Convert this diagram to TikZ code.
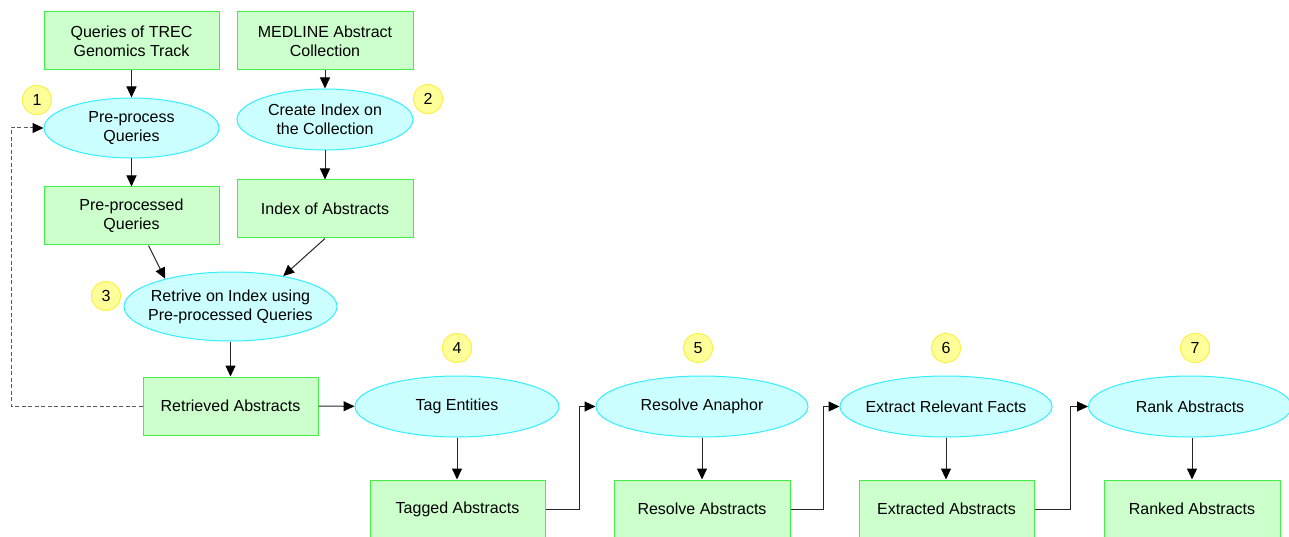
\documentclass[tikz,border=0pt]{standalone}
\usepackage{fontspec}
\setmainfont{Liberation Sans}
\usetikzlibrary{shapes.geometric,arrows.meta,calc}
\definecolor{boxfill}{HTML}{CCFFCC}
\definecolor{boxline}{HTML}{44EE44}
\definecolor{elfill}{HTML}{CCFFFF}
\definecolor{elline}{HTML}{33EEFF}
\definecolor{numfill}{HTML}{FFFF99}
\definecolor{numline}{HTML}{FFEE44}
\tikzset{
  every node/.style={font=\fontsize{16}{19}\selectfont, align=center, inner sep=0pt},
  databox/.style={draw=boxline, fill=boxfill, line width=1pt, rectangle, minimum width=175pt, minimum height=58pt},
  procell/.style={draw=elline, fill=elfill, line width=1pt, ellipse, minimum height=61pt, inner xsep=-20pt},
  numcirc/.style={draw=numline, fill=numfill, line width=1pt, circle, minimum size=29pt},
  conn/.style={draw=black!85, line width=1pt, -{Triangle[length=11pt,width=10pt,color=black]}},
  feedback/.style={draw=black!65, line width=1pt, dash pattern=on 4pt off 2.5pt, -{Triangle[length=11pt,width=10pt,color=black]}}
}
\begin{document}
\begin{tikzpicture}[x=1pt,y=-1pt]
\useasboundingbox (0,0) rectangle (1289,537);
% top left column
\node[databox] (trec) at (131.5,41) {Queries of TREC\\Genomics Track};
\node[databox, minimum width=176pt] (med) at (325,41) {MEDLINE Abstract\\Collection};
\node[procell, minimum width=175pt, minimum height=60pt] (prep) at (131.5,128) {Pre-process\\Queries};
\node[procell, minimum width=176pt] (cidx) at (325,119.5) {Create Index on\\the Collection};
\node[databox] (pq) at (131.5,216) {Pre-processed\\Queries};
\node[databox, minimum width=176pt] (ioa) at (325,209) {Index of Abstracts};
\node[procell, minimum width=213pt, minimum height=69pt] (retr) at (230.5,306.5) {Retrive on Index using\\Pre-processed Queries};
\node[databox] (ra) at (230.5,406) {Retrieved Abstracts};
% bottom row
\node[procell, minimum width=204pt] (tag) at (457,406.5) {Tag Entities};
\node[databox] (ta) at (457.5,509) {Tagged Abstracts};
\node[procell, minimum width=212pt] (res) at (702,406.5) {Resolve Anaphor};
\node[databox, minimum width=176pt] (rsa) at (702,509) {Resolve Abstracts};
\node[procell, minimum width=212pt] (ext) at (946,406.5) {Extract Relevant Facts};
\node[databox] (exa) at (946.5,509) {Extracted Abstracts};
\node[procell, minimum width=203pt] (rank) at (1190,406.5) {Rank Abstracts};
\node[databox, minimum width=176pt] (rka) at (1192,509) {Ranked Abstracts};
% number circles
\node[numcirc] (n1) at (37,100) {1};
\node[numcirc] (n2) at (428,99) {2};
\node[numcirc] (n3) at (106,296) {3};
\node[numcirc] (n4) at (457,348) {4};
\node[numcirc] (n5) at (698,348) {5};
\node[numcirc] (n6) at (946,348) {6};
\node[numcirc] (n7) at (1195,348) {7};
% connectors
\draw[conn] (trec) -- (prep);
\draw[conn] (prep) -- (pq);
\draw[conn] (med) -- (cidx);
\draw[conn] (cidx) -- (ioa);
\draw[conn] ($(pq.south)+(17,0)$) -- (retr.157);
\draw[conn] (ioa.south) -- (retr.30);
\draw[conn] (retr) -- (ra);
\draw[conn] (ra) -- (tag);
\coordinate (fb) at (11,406);
\draw[feedback] (ra.west) -- (fb) |- (prep.west);
\draw[conn] (tag.south) -- (tag.south |- ta.north);
\draw[conn] (ta.east) -- ++(34,0) |- (res.west);
\draw[conn] (res) -- (rsa);
\draw[conn] (rsa.east) -- ++(33,0) |- (ext.west);
\draw[conn] (ext.south) -- (ext.south |- exa.north);
\draw[conn] (exa.east) -- ++(36,0) |- (rank.west);
\draw[conn] (rank.south -| rka) -- (rka);
\end{tikzpicture}
\end{document}
